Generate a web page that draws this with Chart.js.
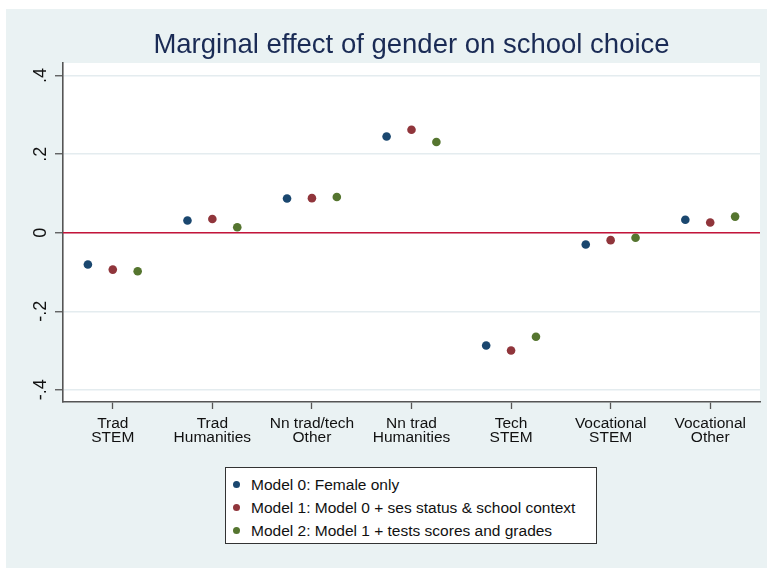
<!DOCTYPE html>
<html>
<head>
<meta charset="utf-8">
<script src="https://cdn.jsdelivr.net/npm/chart.js@4"></script>
<style>
  html, body { margin: 0; padding: 0; background: #fff; }
  #frame { position: absolute; left: 6px; top: 9px; right: 0; bottom: 0; width: 761px; height: 559px; background: #eaf2f3; }
  #chart { position: absolute; left: 0; top: 0; }
  #legend {
    position: absolute; left: 225px; top: 467px; width: 370px; height: 75px;
    background: #fff; border: 1px solid #333; box-sizing: content-box;
    font-family: "Liberation Sans", Arial, sans-serif; font-size: 15.5px; color: #111;
  }
  #legend .row { position: absolute; left: 0; height: 20px; line-height: 20px; white-space: nowrap; }
  #legend .dot { position: absolute; left: 7px; top: 6px; width: 7px; height: 7px; border-radius: 50%; }
  #legend .txt { position: absolute; left: 25px; top: 0; }
</style>
</head>
<body>
<div id="frame"></div>
<canvas id="chart" width="767" height="568"></canvas>
<div id="legend"></div>
<script>
  // categories (two-line tick labels)
  var categories = [
    ['Trad', 'STEM'],
    ['Trad', 'Humanities'],
    ['Nn trad/tech', 'Other'],
    ['Nn trad', 'Humanities'],
    ['Tech', 'STEM'],
    ['Vocational', 'STEM'],
    ['Vocational', 'Other']
  ];

  // marginal effects
  var model0 = [-0.081, 0.031, 0.087, 0.245, -0.287, -0.030, 0.033];
  var model1 = [-0.094, 0.035, 0.088, 0.262, -0.300, -0.019, 0.026];
  var model2 = [-0.098, 0.014, 0.091, 0.231, -0.265, -0.013, 0.041];

  var seriesNames = [
    'Model 0: Female only',
    'Model 1: Model 0 + ses status & school context',
    'Model 2: Model 1 + tests scores and grades'
  ];
  var seriesOffsets = [-0.25, 0, 0.25];

  var yTicks = [-0.4, -0.2, 0, 0.2, 0.4];
  var yTickLabels = ['-.4', '-.2', '0', '.2', '.4'];

  var colors = {
    navy: '#1a476f',
    maroon: '#90353b',
    green: '#55752f',
    zero: '#c4143a',
    grid: '#e4ecef',
    axis: '#555555',
    title: '#1a2b55',
    text: '#111111'
  };
  var seriesColors = [colors.navy, colors.maroon, colors.green];
  var fontFamily = '"Liberation Sans", Arial, sans-serif';

  function toPoints(values, offset) {
    return values.map(function(v, i) {
      return { x: i + 1 + offset, y: v };
    });
  }

  var datasets = [model0, model1, model2].map(function(values, k) {
    return {
      type: 'scatter',
      label: seriesNames[k],
      data: toPoints(values, seriesOffsets[k]),
      backgroundColor: seriesColors[k],
      borderWidth: 0,
      pointRadius: 4.3,
      pointHoverRadius: 4.3
    };
  });

  // reference line at zero
  datasets.unshift({
    type: 'line',
    label: 'zero',
    data: [{ x: 0.5, y: 0 }, { x: categories.length + 0.5, y: 0 }],
    borderColor: colors.zero,
    borderWidth: 1.6,
    pointRadius: 0,
    fill: false
  });

  var backgroundPlugin = {
    id: 'plotBackground',
    beforeDraw: function(chart) {
      var a = chart.chartArea, ctx = chart.ctx;
      ctx.save();
      ctx.fillStyle = '#ffffff';
      ctx.fillRect(a.left, a.top, a.right - a.left, a.bottom - a.top);
      ctx.restore();
    }
  };

  // Stata-style vertical y labels
  var yLabelPlugin = {
    id: 'yLabels',
    afterDraw: function(chart) {
      var scale = chart.scales.y, ctx = chart.ctx;
      ctx.save();
      ctx.fillStyle = colors.text;
      ctx.font = '18px ' + fontFamily;
      ctx.textAlign = 'center';
      ctx.textBaseline = 'middle';
      yTicks.forEach(function(v, i) {
        ctx.save();
        ctx.translate(41, scale.getPixelForValue(v));
        ctx.rotate(-Math.PI / 2);
        ctx.fillText(yTickLabels[i], 0, 0);
        ctx.restore();
      });
      ctx.restore();
    }
  };

  new Chart(document.getElementById('chart'), {
    data: { datasets: datasets },
    plugins: [backgroundPlugin, yLabelPlugin],
    options: {
      responsive: false,
      animation: false,
      layout: { padding: { left: 0, right: 7, top: 0, bottom: 0 } },
      plugins: {
        legend: { display: false },
        tooltip: { enabled: false },
        title: {
          display: true,
          fullSize: false,
          text: 'Marginal effect of gender on school choice',
          color: colors.title,
          font: { family: fontFamily, size: 27.5, weight: 'normal', lineHeight: 1.2 },
          padding: { top: 29, bottom: 1 }
        }
      },
      scales: {
        x: {
          type: 'linear',
          min: 0.5,
          max: categories.length + 0.5,
          afterBuildTicks: function(scale) {
            scale.ticks = categories.map(function(_, i) { return { value: i + 1 }; });
          },
          afterFit: function(scale) { scale.height = 166; },
          ticks: {
            autoSkip: false,
            maxRotation: 0,
            color: colors.text,
            padding: 7,
            font: { family: fontFamily, size: 15.5, lineHeight: 0.94 },
            callback: function(value) { return categories[value - 1]; }
          },
          grid: {
            drawOnChartArea: false,
            drawTicks: true,
            tickLength: 7,
            tickColor: colors.axis,
            tickWidth: 1.3
          },
          border: { display: true, color: colors.axis, width: 1.6 }
        },
        y: {
          type: 'linear',
          min: -0.431,
          max: 0.432,
          afterBuildTicks: function(scale) {
            scale.ticks = yTicks.map(function(v) { return { value: v }; });
          },
          afterFit: function(scale) { scale.width = 63; },
          ticks: { display: false },
          grid: {
            color: colors.grid,
            lineWidth: 1.5,
            drawTicks: true,
            tickLength: 8,
            tickColor: colors.axis,
            tickWidth: 1.3
          },
          border: { display: true, color: colors.axis, width: 1.6 }
        }
      }
    }
  });

  // legend box
  var legendEl = document.getElementById('legend');
  seriesNames.forEach(function(name, k) {
    var row = document.createElement('div');
    row.className = 'row';
    row.style.top = (7 + k * 23) + 'px';
    var dot = document.createElement('span');
    dot.className = 'dot';
    dot.style.background = seriesColors[k];
    var txt = document.createElement('span');
    txt.className = 'txt';
    txt.textContent = name;
    row.appendChild(dot);
    row.appendChild(txt);
    legendEl.appendChild(row);
  });
</script>
</body>
</html>
